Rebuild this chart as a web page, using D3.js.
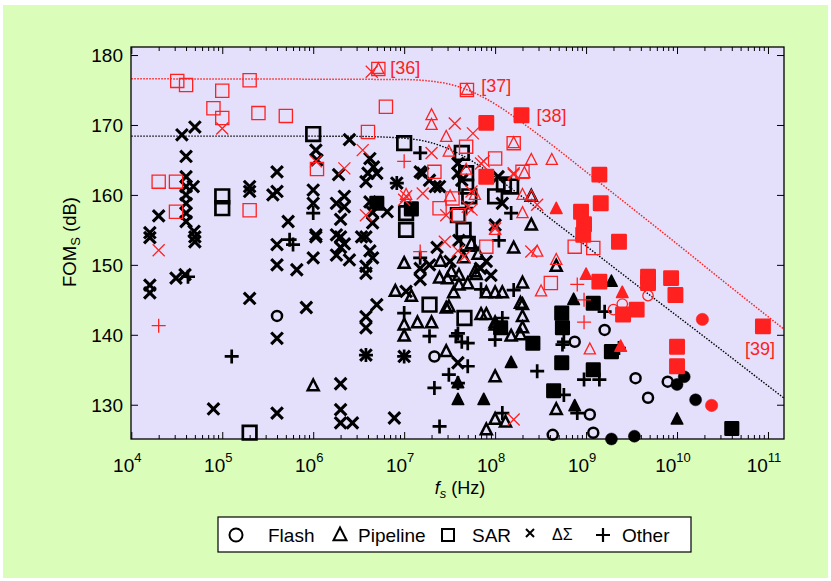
<!DOCTYPE html>
<html><head><meta charset="utf-8">
<script src="https://cdn.jsdelivr.net/npm/d3@7"></script>
<style>body{margin:0;background:#fff} svg{display:block} text{font-family:"Liberation Sans",Arial,Helvetica,sans-serif}</style>
</head><body><svg id="c" width="831" height="581"></svg>
<script>
// ---------- DATA: [fs (Hz), FOM_S (dB)] ----------
const xTicks = [1e4,1e5,1e6,1e7,1e8,1e9,1e10,1e11];
const xTickExp = ["4","5","6","7","8","9","10","11"];
const yTicks = [130,140,150,160,170,180];

const envRed = [[1e4,176.6],[1e7,176.5],[2e7,176.25],[3e7,175.9],[5e7,175.0],[1e8,173.0],[2e8,170.3],[5e8,166.4],[1e9,163.3],[3e9,158.4],[1e10,153.0],[3e10,148.0],[1e11,142.6],[1.5e11,140.8]];
const envBlack = [[1e4,168.4],[1e6,168.4],[3e6,168.37],[1e7,168.1],[2e7,167.45],[3e7,166.65],[5e7,165.2],[1e8,162.6],[2e8,159.7],[5e8,155.7],[1e9,152.7],[3e9,147.9],[1e10,142.7],[3e10,137.95],[1e11,132.7],[1.5e11,130.95]];

const blackDS = [[3.6e4,168.6],[5.0e4,169.7],[4.0e4,165.5],[4.0e4,162.6],[4.0e4,161.2],[4.8e4,161.2],[4.0e4,160],[4.0e4,158.8],[4.0e4,157.4],[4.0e4,156.2],[4.9e4,154.8],[2.0e4,157.0],[1.6e4,154.6],[1.6e4,153.9],[1.6e4,147.1],[1.6e4,146.0],[3.1e4,148.1],[3.9e4,148.6],[5.0e4,154.0],[5.0e4,153.3],
[2e5,161.2],[2e5,160.5],[4e5,163.3],[4e5,160.5],[3.6e5,160.0],[5.3e5,156.2],[1e6,160.7],[1e6,158.8],[1.07e6,166.4],[1.1e6,165],[1.07e6,154.3],[1.9e6,162.9],[1.8e6,158.8],[1.8e6,154.3],
[2e5,145.2],[8e4,129.4],[4e5,128.8],[4e5,150],[4e5,152.9],[4e5,139.5],[6.6e5,149.3],[1e6,151],[8.4e5,143.9],[1.07e6,154.0],[2.0e6,133],[2.0e6,129.3],[2.0e6,127.4],[2.7e6,127.4],
[2.5e6,167.9],[2.2e6,159.8],[2.2e6,158.3],[2.0e6,156.5],[2.0e6,154],[2.2e6,153],[1.8e6,151.4],[2.5e6,150.7],[2.0e6,152.5],
[4.2e6,165.2],[4.6e6,164],[5e6,163.1],[4e6,163.1],[3.8e6,161.9],[6.5e6,157.6],[3.4e6,154],[3.8e6,154],[3.8e6,149.8],[3.8e6,148.8],[5e6,144.3],[3.8e6,142.6],[3.8e6,141],[4.2e6,159],[4.5e6,157.5],[4.5e6,156],[4.2e6,152],[4.5e6,151],[3.8e6,137.1],
[1.6e7,163.1],[1.9e7,162.1],[2.2e7,161.2],[3.9e7,164.5],[3.9e7,163.1],[4.3e7,162.1],[1.08e8,162.6],[1.2e8,158.8],[1.5e7,147.9],[1.9e7,150],[1.05e7,146.2],[3.9e7,136],[7.8e6,128.1],[1e8,155.7],[6.9e7,149.5],[1.0e7,136.9],[8.3e6,161.7],
[1.5e7,163.3],[2.45e7,161.2],[1.5e7,149.5],[2.3e7,152.5],[4e7,153.5],[3.2e7,150.5],[8e7,150.5],[9e7,148.5]];

const blackOther = [[1e6,157.4],[4.2e4,148.3],[1.27e5,136.9],[5.5e5,153.6],[6e5,152.9],[8.3e6,161.7],[1.5e8,157.4],[4.8e7,158.1],[1e7,143.1],[1.9e7,139.8],[3.7e7,139.8],[5e7,138.8],[1e8,139.3],[1.2e8,142.4],[1.6e8,146.4],[5e7,135.5],[3.1e7,134.3],[2.15e7,132.4],[3.9e7,133.1],[2.9e8,134.8],[2.45e7,126.9],[1.2e8,128.8],[3.8e6,137.1],[1e7,136.9],[5.5e8,138.6],[9.5e8,133.6],[1.4e9,133.6],[5.7e8,131.4],[8e8,128.8],[1.6e9,143.3],[2.3e9,138.1],[5.7e8,139],[1.5e7,151],[3.9e7,140.2],[4.3e7,139],[1.1e8,153.5],[1.5e7,166],[7e7,146.5]];

const blackPipe = [[1e6,132.7],[1e7,150.2],[8e6,146.2],[1.2e7,145.5],[1e7,141.4],[1e7,139.8],[1.4e7,141.7],[2e7,141.7],[2.9e7,143.8],[7e7,142.9],[1e8,141.7],[1.5e8,139.8],[2e8,142.6],[2e8,144.3],[2e8,141],[2e8,147.4],[2.9e7,137.6],[1e8,134],[1e8,127.9],[8e7,126.4],[2.5e8,159.8],[2.5e8,155.7],[1.6e8,152.4],[4.7e8,149.8],[1.9e8,144.5],[1.9e8,140],[8e7,146],[1e8,146],[1.2e8,146],[8e7,142.9],[1e8,141.4],[4.7e8,129.3],
[2.5e7,150.5],[3e7,148],[4e7,148.5],[5e7,147.3],[6e7,149],[4.5e7,151],[5.5e7,153],[6.5e7,151.5],[3.5e7,146],[2.45e7,148.1],[3.3e7,149],[4e7,147.1],[6.2e7,148.6],[3.1e7,144],[1.3e8,127.5]];

const blackFlash = [[4e5,142.7],[2.15e7,136.9],[4.3e8,125.7],[1.6e9,140.7],[7.5e8,139],[3.5e9,133.8],[7.9e9,133.3],[4.8e9,131],[1.1e9,128.6],[1.2e9,126]];

const blackSAR = [[1e6,168.7],[1e5,159.8],[1e5,158.1],[2e5,126],[1e7,167.4],[4.3e7,166],[4.8e7,163.1],[4.8e7,161.2],[1.5e8,161.2],[1e8,159.8],[3.9e7,157.1],[5.2e7,159.8],[1.05e7,157.4],[1.05e7,155],[1.9e7,144.3],[4.6e7,142.4],[4.5e7,155],[5e7,153],[1.25e8,161.5]];

const blackSARFilled = [[5e6,158.8],[1.2e7,158],[1.15e8,141],[2.6e8,138.8],[5.4e8,143.1],[5.5e8,141],[5.4e8,136],[1.2e9,135],[1.2e9,144.5],[4.4e8,132],[1.9e9,137.6],[4e10,126.6]];
const blackFlashFilled = [[1.9e9,125.1],[3.4e9,125.5],[1.6e10,130.7],[1e10,132.9],[1.2e10,134]];
const blackPipeFilled = [[3.9e7,133.1],[3.9e7,130.7],[7.5e7,130.7],[1.5e8,136],[1e10,127.9],[7.5e8,129.8],[1.9e9,147.6],[7.3e8,145]];

const redSAR = [[3.2e4,176.3],[4.0e4,175.7],[1.0e5,174.9],[8.0e4,172.4],[1.0e5,171.0],[2.0e5,176.4],[2.5e5,171.7],[5.0e5,171.3],[2.0e4,161.9],[3.1e4,161.9],[3.1e4,157.6],[2.0e5,157.8],[1.1e6,163.7],[5.2e6,178],[4.9e7,175],[6.3e6,172.6],[4e6,169],[4.8e7,166.9],[1e8,165.2],[1.6e8,167.4],[2e8,163.3],[3.4e7,159.5],[2.45e7,158.1],[2.15e7,163.3],[8e7,152.6],[4.1e8,147.4],[7.5e8,152.6],[1.2e9,152.4],[4e7,157.1]];
const redPipe = [[5.2e6,178],[4.9e7,175],[2e7,171.4],[2e7,170],[2.9e7,168.3],[3.1e7,166.2],[4.8e7,163.6],[2.5e8,165],[4.2e8,165],[1.6e8,167.4],[2.1e8,163.1],[2.5e8,159.8],[2e8,157.4],[2e8,160],[1e8,155],[2.9e8,151.9],[4.7e8,150.7],[3.2e8,146.2],[1.1e9,137.9],[1.05e7,160],[6e7,160],[3.2e7,159.8]];
const redDS = [[1e5,169.5],[1.07e6,164.8],[2.0e4,152.1],[4.4e6,177.6],[3.6e7,170.2],[5.7e7,168.8],[2e7,166],[3.5e6,166.4],[2.2e6,163.8],[7.5e7,164.8],[1.6e8,162.9],[2.9e8,158.6],[5e7,158.3],[2.9e7,157.1],[1e8,155.2],[1.05e7,159.8],[1.6e7,160.2],[3.8e6,157.1],[2.8e7,153.3],[3.9e7,152],[4.6e7,151.2],[2.5e8,151.9],[1.6e8,127.9],[7e7,164.5],[1.6e8,163.1],[1e7,159.3],[5.5e7,160.5],[5.5e7,157.9]];
const redOther = [[2.0e4,141.3],[1e7,164.8],[1.5e7,151.9],[8e8,147.2],[9.5e8,145],[9.5e8,141.8]];
const redFlash = [[4.8e9,145.6],[2.5e9,144.4],[2e9,143.6]];
const redSARFilled = [[1.95e8,171.4],[8e7,170.3],[8e7,162.6],[8.8e8,157.6],[9.5e8,155.8],[9.3e8,154.3],[1.4e9,162.9],[1.45e9,158.8],[2.3e9,153.3],[4.8e9,148.3],[4.8e9,147.4],[8.6e9,148.1],[9.6e9,145.7],[1.4e9,147.6],[3.6e9,143.6],[2.55e9,142.9],[1e10,138.3],[1e10,135.5],[8.8e10,141.2]];
const redPipeFilled = [[4.7e8,158],[1e9,148.6],[2.5e9,146],[2.4e9,138.3]];
const redFlashFilled = [[1.9e10,142.2],[2.4e10,129.9]];

const refLabels = [["[36]",5.2e6,177.3,12],["[37]",5.2e7,174.7,12],["[38]",2.1e8,170.4,12],["[39]",8.8e10,137.1,-18]];

// ---------- DRAW ----------
const RED = "#ff2020";
const svg = d3.select("#c");
svg.append("rect").attr("x",3).attr("y",5).attr("width",825).attr("height",573).attr("fill","#dafdb9");

const L=131, R=784, T=47, B=439;
const x = d3.scaleLog().domain([1e4,1.5e11]).range([131.3,R]);
const y = d3.scaleLinear().domain([125.1,181.15]).range([B,T]);

svg.append("rect").attr("x",L).attr("y",T).attr("width",R-L).attr("height",B-T).attr("fill","#e4e0fb");

// envelopes
const line = d3.line().x(d=>x(d[0])).y(d=>y(d[1])).curve(d3.curveMonotoneX);
svg.append("path").attr("d",line(envBlack)).attr("fill","none").attr("stroke","#000").attr("stroke-width",1.4).attr("stroke-dasharray","1.5,1.5");
svg.append("path").attr("d",line(envRed)).attr("fill","none").attr("stroke",RED).attr("stroke-width",1.5).attr("stroke-dasharray","1.5,1.5");

// axes (inward ticks)
const minors = [];
for (let e=4;e<=11;e++) for (let m=2;m<=9;m++){ const v=m*Math.pow(10,e); if (v<=1.5e11) minors.push(v); }
const axB = d3.axisBottom(x).tickValues(xTicks).tickSize(-7).tickFormat("");
const axBm = d3.axisBottom(x).tickValues(minors).tickSize(-4).tickFormat("");
const axT = d3.axisTop(x).tickValues(xTicks).tickSize(-7).tickFormat("");
const axTm = d3.axisTop(x).tickValues(minors).tickSize(-4).tickFormat("");
const axL = d3.axisLeft(y).tickValues(yTicks).tickSize(-7).tickFormat("");
const axR = d3.axisRight(y).tickValues(yTicks).tickSize(-7).tickFormat("");
[[axB,`translate(0,${B})`],[axBm,`translate(0,${B})`],[axT,`translate(0,${T})`],[axTm,`translate(0,${T})`],[axL,`translate(${L},0)`],[axR,`translate(${R},0)`]].forEach(([a,t])=>{
  const g = svg.append("g").attr("transform",t).call(a);
  g.select(".domain").remove();
  g.selectAll("line").attr("stroke","#000").attr("stroke-width",1);
});

// tick labels
yTicks.forEach(v=>{
  svg.append("text").attr("x",123).attr("y",y(v)+7).attr("text-anchor","end").attr("font-size",19).text(v);
});
xTicks.forEach((v,i)=>{
  const t = svg.append("text").attr("x",x(v)-4).attr("y",472).attr("text-anchor","middle").attr("font-size",19);
  t.append("tspan").text("10");
  t.append("tspan").attr("dy",-10).attr("font-size",13).text(xTickExp[i]);
});

// axis titles
const yt = svg.append("text").attr("transform","translate(76,242) rotate(-90)").attr("text-anchor","middle").attr("font-size",18.5);
yt.append("tspan").text("FOM");
yt.append("tspan").attr("dy",4).attr("font-size",13).text("S");
yt.append("tspan").attr("dy",-4).text(" (dB)");
const xt = svg.append("text").attr("x",460).attr("y",494).attr("text-anchor","middle").attr("font-size",18);
xt.append("tspan").attr("font-style","italic").text("f");
xt.append("tspan").attr("dy",4).attr("font-size",13).attr("font-style","italic").text("s");
xt.append("tspan").attr("dy",-4).text(" (Hz)");

// marker shapes
const shapes = {
  square: h=>`M${-h},${-h}H${h}V${h}H${-h}Z`,
  tri: h=>`M0,${-h*1.15}L${h},${h*0.8}L${-h},${h*0.8}Z`,
  x: h=>`M${-h},${-h}L${h},${h}M${h},${-h}L${-h},${h}`,
  plus: h=>`M${-h},0H${h}M0,${-h}V${h}`
};
function marks(data, shape, h, stroke, sw, fill){
  const g = svg.append("g");
  if (shape==="circle"){
    g.selectAll("circle").data(data).join("circle").attr("cx",d=>x(d[0])).attr("cy",d=>y(d[1])).attr("r",h)
      .attr("fill",fill||"none").attr("stroke",stroke).attr("stroke-width",sw);
  } else {
    g.selectAll("path").data(data).join("path").attr("transform",d=>`translate(${x(d[0])},${y(d[1])})`)
      .attr("d",shapes[shape](h)).attr("fill",fill||"none").attr("stroke",stroke).attr("stroke-width",sw)
      .attr("stroke-linejoin", fill? "round":"miter");
  }
}
// black
marks(blackDS,"x",5.8,"#000",3.1);
marks(blackOther,"plus",7,"#000",2.7);
marks(blackPipe,"tri",5.5,"#000",2.5);
marks(blackFlash,"circle",5,"#000",2.5);
marks(blackSAR,"square",6.8,"#000",2.7);
marks(blackSARFilled,"square",6.3,"#000",2.5,"#000");
marks(blackFlashFilled,"circle",6,"#000",0.5,"#000");
marks(blackPipeFilled,"tri",5.8,"#000",1.5,"#000");
// red
marks(redSAR,"square",6.6,RED,1.3);
marks(redPipe,"tri",5.6,RED,1.3);
marks(redDS,"x",6,RED,1.3);
marks(redOther,"plus",7,RED,1.3);
marks(redFlash,"circle",5.2,RED,1.3);
marks(redSARFilled,"square",6.7,RED,2.5,RED);
marks(redPipeFilled,"tri",5.8,RED,1.5,RED);
marks(redFlashFilled,"circle",6.2,RED,0.5,RED);

// reference labels
refLabels.forEach(([t,fx,fy,dx])=>{
  svg.append("text").attr("x",x(fx)+dx).attr("y",y(fy)).attr("fill",RED).attr("font-size",18).text(t);
});

// frame
svg.append("rect").attr("x",L).attr("y",T).attr("width",R-L).attr("height",B-T).attr("fill","none").attr("stroke","#000").attr("stroke-width",1.3);

// legend
const lg = svg.append("g");
lg.append("rect").attr("x",218).attr("y",517).attr("width",473).attr("height",35).attr("fill","#fff").attr("stroke","#000").attr("stroke-width",1.2);
const ly = 535;
lg.append("circle").attr("cx",236).attr("cy",ly).attr("r",6.5).attr("fill","none").attr("stroke","#000").attr("stroke-width",2);
lg.append("text").attr("x",268).attr("y",ly+7).attr("font-size",19).text("Flash");
lg.append("path").attr("transform",`translate(340,${ly})`).attr("d",shapes.tri(6.5)).attr("fill","none").attr("stroke","#000").attr("stroke-width",2);
lg.append("text").attr("x",358).attr("y",ly+7).attr("font-size",19).text("Pipeline");
lg.append("path").attr("transform",`translate(448,${ly})`).attr("d",shapes.square(6)).attr("fill","none").attr("stroke","#000").attr("stroke-width",2);
lg.append("text").attr("x",472).attr("y",ly+7).attr("font-size",19).text("SAR");
lg.append("path").attr("transform",`translate(530,${ly-2})`).attr("d",shapes.x(4)).attr("fill","none").attr("stroke","#000").attr("stroke-width",2);
lg.append("text").attr("x",552).attr("y",ly+5).attr("font-size",16).attr("font-family","'Liberation Serif','DejaVu Serif',serif").text("ΔΣ");
lg.append("path").attr("transform",`translate(603,${ly})`).attr("d",shapes.plus(7)).attr("fill","none").attr("stroke","#000").attr("stroke-width",2.2);
lg.append("text").attr("x",622).attr("y",ly+7).attr("font-size",19).text("Other");
</script></body></html>
